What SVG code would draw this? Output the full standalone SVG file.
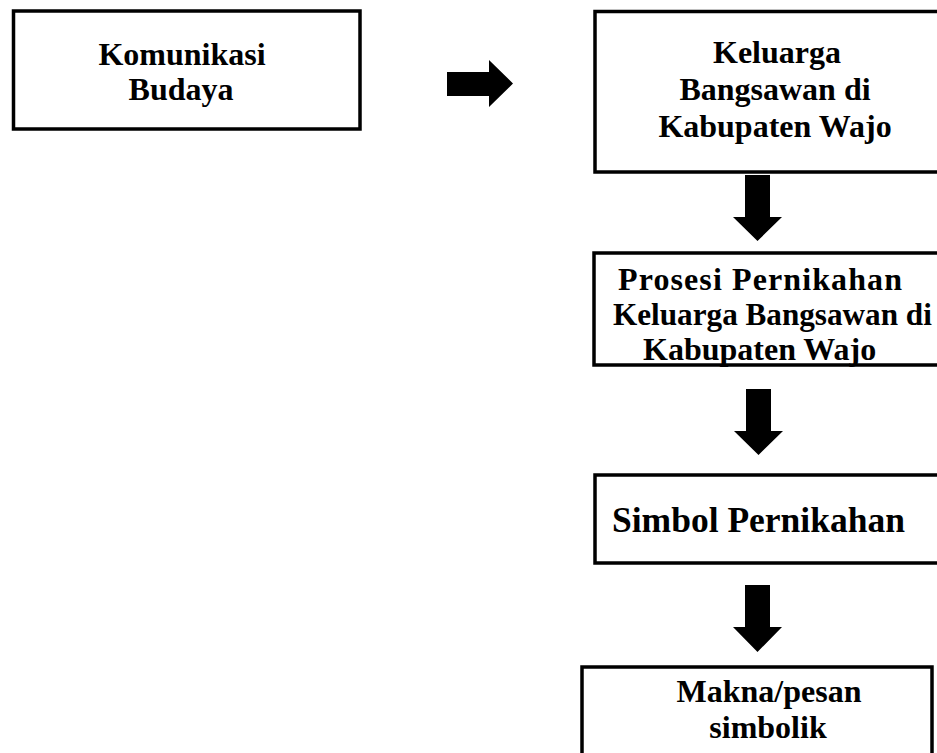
<svg xmlns="http://www.w3.org/2000/svg" width="937" height="753" viewBox="0 0 937 753">
<style>
.box{fill:#fff;stroke:#000;stroke-width:3.5}
.t{font-family:"Liberation Serif","Times New Roman",serif;font-weight:bold;font-size:32px;fill:#000}
.m{text-anchor:middle}
.arr{fill:#000}
</style>
<rect width="937" height="753" fill="#fff"/>
<g id="n1">
<rect class="box" x="13.5" y="11" width="346.5" height="118"/>
<text class="t m" x="182" y="65">Komunikasi</text>
<text class="t m" x="181" y="100">Budaya</text>
</g>
<g id="n2">
<rect class="box" x="595" y="11.5" width="360" height="160.5"/>
<text class="t m" x="777" y="63">Keluarga</text>
<text class="t m" x="775" y="100">Bangsawan di</text>
<text class="t m" x="775" y="137">Kabupaten Wajo</text>
</g>
<g id="n3">
<rect class="box" x="594" y="253" width="360" height="112"/>
<text class="t" x="618" y="290" textLength="284" lengthAdjust="spacing">Prosesi Pernikahan</text>
<text class="t" x="613" y="325" style="font-size:31.2px">Keluarga Bangsawan di</text>
<text class="t" x="643" y="360">Kabupaten Wajo</text>
</g>
<g id="n4">
<rect class="box" x="595" y="475" width="360" height="88"/>
<text class="t" x="612" y="532" style="font-size:35.5px">Simbol Pernikahan</text>
</g>
<g id="n5">
<rect class="box" x="582" y="667" width="350" height="120"/>
<text class="t m" x="769" y="702">Makna/pesan</text>
<text class="t m" x="768" y="738">simbolik</text>
</g>
<g id="connectors">
<polygon class="arr" points="447,72 489,72 489,60 513,83.5 489,107 489,96 447,96"/>
<polygon class="arr" points="745,175 770,175 770,217 782,217 757.5,241 733,217 745,217"/>
<polygon class="arr" points="746,389 771,389 771,431 783,431 758.5,455 734,431 746,431"/>
<polygon class="arr" points="745,585 770,585 770,627 782,627 757.5,652 733,627 745,627"/>
</g>
</svg>
